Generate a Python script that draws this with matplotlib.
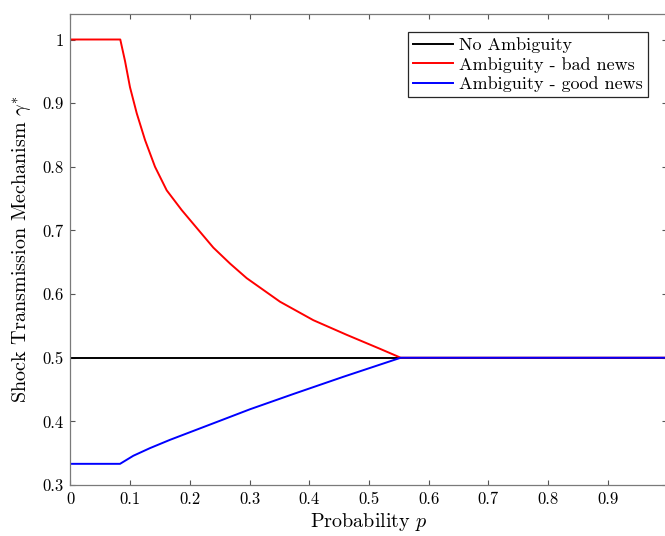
"""Shock transmission mechanism gamma* against the probability p."""

import matplotlib

matplotlib.use("Agg")

import matplotlib.pyplot as plt

plt.rcParams["font.family"] = ["cmr10", "DejaVu Serif"]
plt.rcParams["mathtext.fontset"] = "cm"
plt.rcParams["axes.formatter.use_mathtext"] = True

# benchmark without ambiguity
p_none = [0.0, 1.0]
gamma_none = [0.5, 0.5]

# ambiguity, bad news
p_bad = [0.0, 0.0835, 0.0915, 0.0998, 0.1111, 0.1250, 0.1417, 0.1613, 0.1864,
         0.2142, 0.2394, 0.2673, 0.2953, 0.3511, 0.4069, 0.4628, 0.5186, 0.5533, 1.0]
gamma_bad = [1.0, 1.0, 0.966, 0.925, 0.884, 0.842, 0.800, 0.763, 0.732,
             0.701, 0.673, 0.648, 0.625, 0.588, 0.559, 0.536, 0.514, 0.5, 0.5]

# ambiguity, good news
p_good = [0.0, 0.0831, 0.1054, 0.1333, 0.1668, 0.2059, 0.2506, 0.3007, 0.3734,
          0.4570, 0.5533, 1.0]
gamma_good = [0.3333, 0.3333, 0.346, 0.358, 0.371, 0.385, 0.401, 0.419, 0.443,
              0.470, 0.5, 0.5]

x_ticks = [0.0, 0.1, 0.2, 0.3, 0.4, 0.5, 0.6, 0.7, 0.8, 0.9, 1.0]
x_tick_labels = ["0", "0.1", "0.2", "0.3", "0.4", "0.5", "0.6", "0.7", "0.8", "0.9", "1"]
y_ticks = [0.3, 0.4, 0.5, 0.6, 0.7, 0.8, 0.9, 1.0]
y_tick_labels = ["0.3", "0.4", "0.5", "0.6", "0.7", "0.8", "0.9", "1"]

fig = plt.figure(figsize=(6.65, 5.36), dpi=100)
ax = fig.add_axes([0.1059, 0.0951, 0.8977, 0.8787])

ax.plot(p_none, gamma_none, color="black", lw=1.4, label="No Ambiguity")
ax.plot(p_bad, gamma_bad, color="#ff0000", lw=1.4, label="Ambiguity - bad news")
ax.plot(p_good, gamma_good, color="#0000ff", lw=1.4, label="Ambiguity - good news")

ax.set_xlim(0, 1)
ax.set_ylim(0.3, 1.04)
ax.set_xticks(x_ticks)
ax.set_xticklabels(x_tick_labels)
ax.set_yticks(y_ticks)
ax.set_yticklabels(y_tick_labels)
ax.tick_params(direction="in", length=3.6, width=0.8, color="#555555",
               top=True, right=True, labelsize=12, pad=5)
for spine in ax.spines.values():
    spine.set_color("#7a7a7a")
    spine.set_linewidth(0.9)

ax.set_xlabel(r"Probability $p$", fontsize=14.5, labelpad=3)
ax.set_ylabel(r"Shock Transmission Mechanism $\gamma^{*}$", fontsize=14.5, labelpad=6)

legend = ax.legend(
    loc="upper right",
    bbox_to_anchor=(0.967, 0.962),
    borderaxespad=0.0,
    fontsize=13,
    fancybox=False,
    framealpha=1.0,
    edgecolor="#262626",
    handlelength=2.2,
    handletextpad=0.3,
    labelspacing=0.2,
    borderpad=0.3,
)
legend.get_frame().set_linewidth(0.9)

fig.savefig("out.png", dpi=100)
plt.close(fig)
